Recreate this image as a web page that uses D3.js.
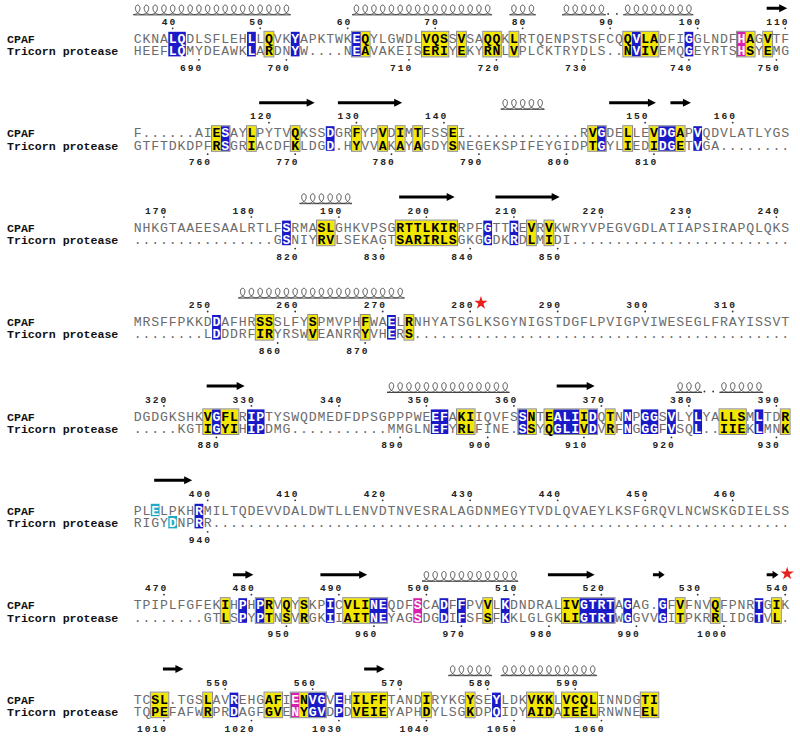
<!DOCTYPE html>
<html><head><meta charset="utf-8">
<script src="https://cdn.jsdelivr.net/npm/d3@7"></script>
<style>
body{margin:0;background:#fff}
svg{display:block}
</style></head><body>
<svg id="chart" width="800" height="742"></svg>
<script>
// alignment, 75 columns per block
var seqNames = ["CPAF", "Tricorn protease"];
var firstResidue = [36, 683];

var cpafLines = [
  "CKNALQDLSFLEHLLQVKYAPKTWKEQYLGWDLVQSSVSAQQKLRTQENPSTSFCQQVLADFIGGLNDFHAGVTF",
  "F......AIESAYLPYTVQKSSDGRFYPVDIMTFSSEI.............RVGDELLEVDGAPVQDVLATLYGS",
  "NHKGTAAEESAALRTLFSRMASLGHKVPSGRTTLKIRRPFGTTREVRVKWRYVPEGVGDLATIAPSIRAPQLQKS",
  "MRSFFPKKDDAFHRSSSLFYSPMVPHFWAELRNHYATSGLKSGYNIGSTDGFLPVIGPVIWESEGLFRAYISSVT",
  "DGDGKSHKVGFLRIPTYSWQDMEDFDPSGPPPWEEFAKIIQVFSSNTEALIIDQTNNPGGSVLYLYALLSMLTDR",
  "PLELPKHRMILTQDEVVDALDWTLLENVDTNVESRALAGDNMEGYTVDLQVAEYLKSFGRQVLNCWSKGDIELSS",
  "TPIPLFGFEKIHPHPRVQYSKPICVLINEQDFSCADFFPVVLKDNDRALIVGTRTAGAG.GFVFNVQFPNRTGIK",
  "TCSL.TGSLAVREHGAFIENVGVEHILFFTANDIRYKGYSEYLDKVKKLVCQLINNDGTI"
];
var tricornLines = [
  "HEEFLQMYDEAWKLARDNYW....NEAVAKEISERIYEKYRNLVPLCKTRYDLS..NVIVEMQGEYRTSHSYEMG",
  "GTFTDKDPFRSGRIACDFKLDGD.HYVVAKAYAGDYSNEGEKSPIFEYGIDPTGYLIEDIDGETVGA........",
  "................GSNIYRVLSEKAGTSARIRLSGKGGDKRDLMIDI.........................",
  "........LDDDRFIRYRSWVEANRRYVHERS...........................................",
  ".....KGTIGYIHIPDMG...........MMGLNEFYRLFINE.SSYQGLIVDVRFNGGGFVSQL..IIEKLMNK",
  "RIGYDNPRR..................................................................",
  "........GTLSPYPTNSVRGKIIAITNEYAGSDGDIFSFSFKKLGLGKLIGTRTWGGVVGITPKRRLIDGTVL.",
  "TQPEFAFWRPRDAGFGVENYGVDPDVEIEYAPHDYLSGKDPQIDYAIDAIEELRNWNEEL"
];

// shaded column runs: [kind, firstCol, lastCol, onlyRow]
var shading = [
  [["b",4,5],["b",13,13],["y",15,15],["b",18,18],["b",25,25],["y",26,26],["y",33,35],["y",37,37],["y",40,41],["y",43,43],["y",56,56],["b",57,57],["y",58,59],["b",63,63],["m",69,69],["y",70,70],["y",72,72]],
  [["y",9,9],["b",10,10],["y",13,13],["y",18,18],["b",22,22],["y",25,25],["y",28,28],["y",30,30],["y",32,32],["y",36,36],["y",52,52],["b",53,53],["y",56,56],["y",59,59],["b",60,61],["y",62,62],["b",64,64]],
  [["b",17,17],["y",21,22],["y",30,36],["b",40,40],["b",43,43],["y",45,45],["y",47,47]],
  [["b",9,9],["y",14,15],["y",20,20],["y",26,26],["b",29,29],["y",31,31]],
  [["y",8,8],["b",9,9],["y",10,11],["b",13,14],["b",34,35],["y",37,38],["b",44,44],["y",45,45],["y",47,47],["b",48,50],["y",51,51],["b",52,52],["y",54,54],["b",56,56],["b",58,59],["b",61,61],["b",64,64],["y",67,69],["b",71,71],["y",74,74]],
  [["c",2,2,0],["c",4,4,1],["b",7,7]],
  [["y",10,10],["b",12,12],["b",14,14],["y",15,15],["y",17,17],["y",19,19],["b",22,22],["y",24,26],["b",27,28],["m",32,32],["b",35,35],["b",37,37],["y",40,40],["b",42,42],["y",49,50],["b",51,54],["b",56,56],["b",60,60],["y",62,62],["y",66,66],["b",71,71],["y",73,73]],
  [["y",2,3],["y",8,8],["b",11,11],["y",15,16],["m",18,18],["y",19,19],["b",20,21],["b",23,23],["y",25,28],["y",33,33],["y",38,38],["b",41,41],["y",45,47],["y",49,52],["y",58,59]]
];

// secondary structure of CPAF: h helix, e strand, t turn dots
var secondary = [
  [["h",0,17],["h",25,40],["h",43,45],["h",49,53],["t",54,55],["h",56,63],["e",72,74]],
  [["e",14,20],["e",23,30],["h",42,46],["e",54,59],["e",61,63]],
  [["h",19,24],["e",30,36],["e",41,48]],
  [["h",12,30]],
  [["e",8,12],["h",29,42],["e",48,52],["h",62,64],["t",65,66],["h",67,71]],
  [["e",2,6]],
  [["e",11,13],["e",21,26],["h",33,43],["e",47,52],["e",59,60],["e",72,73]],
  [["e",3,5],["e",26,28],["h",36,40],["h",42,52]]
];

var starResidues = [281, 540];

var shadeFill = {b: "#1a1ac8", y: "#f3e600", m: "#d81fae", c: "#1fa9c6"};
var shadeText = {b: "#fff", y: "#000", m: "#fff", c: "#fff"};

var svg = d3.select("#chart");
var x = d3.scaleBand().domain(d3.range(75)).range([133.3, 789.55]);
var bw = x.bandwidth();
var rowTop = d3.scaleLinear().domain([0, 7]).range([34.3, 34.3 + 7 * 94.4]);
var mono = "'Liberation Mono', 'Courier New', monospace";

function cx(c) { return x(c) + bw / 2; }

var counters = firstResidue.slice();
var starPlaces = [];

cpafLines.forEach(function (cpaf, bi) {
  var T = rowTop(bi);
  var g = svg.append("g");
  var rows = [cpaf, tricornLines[bi]];

  // per-cell shading lookup
  var cell = rows.map(function (s) { return s.split("").map(function () { return null; }); });
  shading[bi].forEach(function (r) {
    for (var c = r[1]; c <= r[2]; c++) {
      [0, 1].forEach(function (ri) {
        if (r[3] === undefined || r[3] === ri) cell[ri][c] = r[0];
      });
    }
  });

  // backgrounds
  shading[bi].forEach(function (r) {
    var full = r[3] === undefined;
    g.append("rect")
      .attr("x", x(r[1]))
      .attr("y", full ? T - 2.5 : T - 2.5 + r[3] * 12.2)
      .attr("width", x(r[2]) + bw - x(r[1]))
      .attr("height", full ? 24.6 : 12.4)
      .attr("fill", shadeFill[r[0]]);
  });

  // frames around similarity groups
  var cols = shading[bi].slice().filter(function (r) { return r[3] === undefined; })
    .sort(function (a, b) { return a[1] - b[1]; });
  var groups = [];
  cols.forEach(function (r) {
    var last = groups[groups.length - 1];
    if (last && r[1] === last.end + 1) { last.end = r[2]; last.kinds.push(r[0]); }
    else groups.push({start: r[1], end: r[2], kinds: [r[0]]});
  });
  groups.filter(function (gr) { return gr.kinds.indexOf("y") >= 0; }).forEach(function (gr) {
    g.append("rect")
      .attr("x", x(gr.start) - 0.5)
      .attr("y", T - 3)
      .attr("width", x(gr.end) + bw - x(gr.start) + 1)
      .attr("height", 25.6)
      .attr("fill", "none")
      .attr("stroke", "#8a8a8a")
      .attr("stroke-width", 1);
  });

  // names
  seqNames.forEach(function (n, ri) {
    g.append("text")
      .attr("x", 7).attr("y", T + 8.6 + ri * 12.2)
      .attr("font-family", mono).attr("font-weight", "bold")
      .attr("font-size", 11.6).attr("fill", "#111")
      .text(n);
  });

  // residues (one text per row) and numbering
  rows.forEach(function (s, ri) {
    var ticks = [];
    var chars = s.split("").map(function (ch, c) {
      if (ch !== ".") {
        var num = counters[ri]++;
        if (num % 10 === 0) ticks.push({c: c, n: num});
        if (ri === 0 && starResidues.indexOf(num) >= 0) starPlaces.push({b: bi, c: c});
      }
      return {ch: ch, c: c, k: cell[ri][c]};
    });
    g.append("text")
      .attr("y", T + 8.6 + ri * 12.2)
      .attr("text-anchor", "middle")
      .attr("font-family", mono).attr("font-size", 13.2)
      .selectAll("tspan")
      .data(chars)
      .join("tspan")
      .attr("x", function (d) { return cx(d.c); })
      .attr("font-weight", function (d) { return d.k ? "bold" : "normal"; })
      .attr("fill", function (d) { return d.k ? shadeText[d.k] : "#6b6b6b"; })
      .text(function (d) { return d.ch; });

    ticks.forEach(function (t) {
      var label = String(t.n);
      var dotY = ri === 0 ? T - 6 : T + 25.5;
      g.append("circle").attr("cx", cx(t.c)).attr("cy", dotY).attr("r", 0.9).attr("fill", "#333");
      g.append("text")
        .attr("x", cx(t.c) - (label.length - 1) * 8 - 3)
        .attr("y", ri === 0 ? T - 9.3 : T + 36.4)
        .attr("font-family", mono).attr("font-weight", "bold")
        .attr("font-size", 9.6).attr("letter-spacing", "2px")
        .attr("fill", "#222")
        .text(label);
    });
  });

  // secondary structure
  var yMid = T - 24.5, e = 4.7;
  secondary[bi].forEach(function (s) {
    var c0 = s[1], c1 = s[2];
    if (s[0] === "h") {
      var k = bw / (2 * Math.PI), d = 4.2;
      var ts = d3.range(-Math.PI, Math.PI + 2 * Math.PI * (c1 - c0) + 0.001, 0.08);
      var pts = ts.map(function (t) { return [cx(c0) + k * t - d * Math.sin(t), yMid - e * Math.cos(t)]; });
      g.append("path").attr("d", d3.line()(pts))
        .attr("fill", "none").attr("stroke", "#333").attr("stroke-width", 0.9);
      g.append("line")
        .attr("x1", x(c0)).attr("x2", x(c1) + bw)
        .attr("y1", yMid + e + 0.4).attr("y2", yMid + e + 0.4)
        .attr("stroke", "#333").attr("stroke-width", 0.9);
    } else if (s[0] === "e") {
      var x1 = cx(c0) - 1, x2 = cx(c1) + 2, ay = T - 26;
      var head = Math.min(8, (x2 - x1) * 0.5);
      g.append("path")
        .attr("d", "M" + x1 + "," + (ay - 1.5) + "H" + (x2 - head) + "V" + (ay - 4) +
          "L" + x2 + "," + ay + "L" + (x2 - head) + "," + (ay + 4) + "V" + (ay + 1.5) + "H" + x1 + "Z")
        .attr("fill", "#000");
    } else {
      for (var c = c0; c <= c1; c++) {
        g.append("circle").attr("cx", cx(c) - 2).attr("cy", yMid + e - 0.6).attr("r", 0.9).attr("fill", "#333");
      }
    }
  });
});

// red stars on marked residues
starPlaces.forEach(function (p) {
  var T = rowTop(p.b);
  var onStrand = secondary[p.b].some(function (s) { return p.c >= s[1] - 1 && p.c <= s[2] + 1; });
  svg.append("path")
    .attr("d", d3.symbol(d3.symbolStar, 55)())
    .attr("transform", "translate(" + (cx(p.c) + 2) + "," + (onStrand ? T - 27 : T - 14.5) + ")")
    .attr("fill", "#e8201c");
});
</script>
</body></html>
